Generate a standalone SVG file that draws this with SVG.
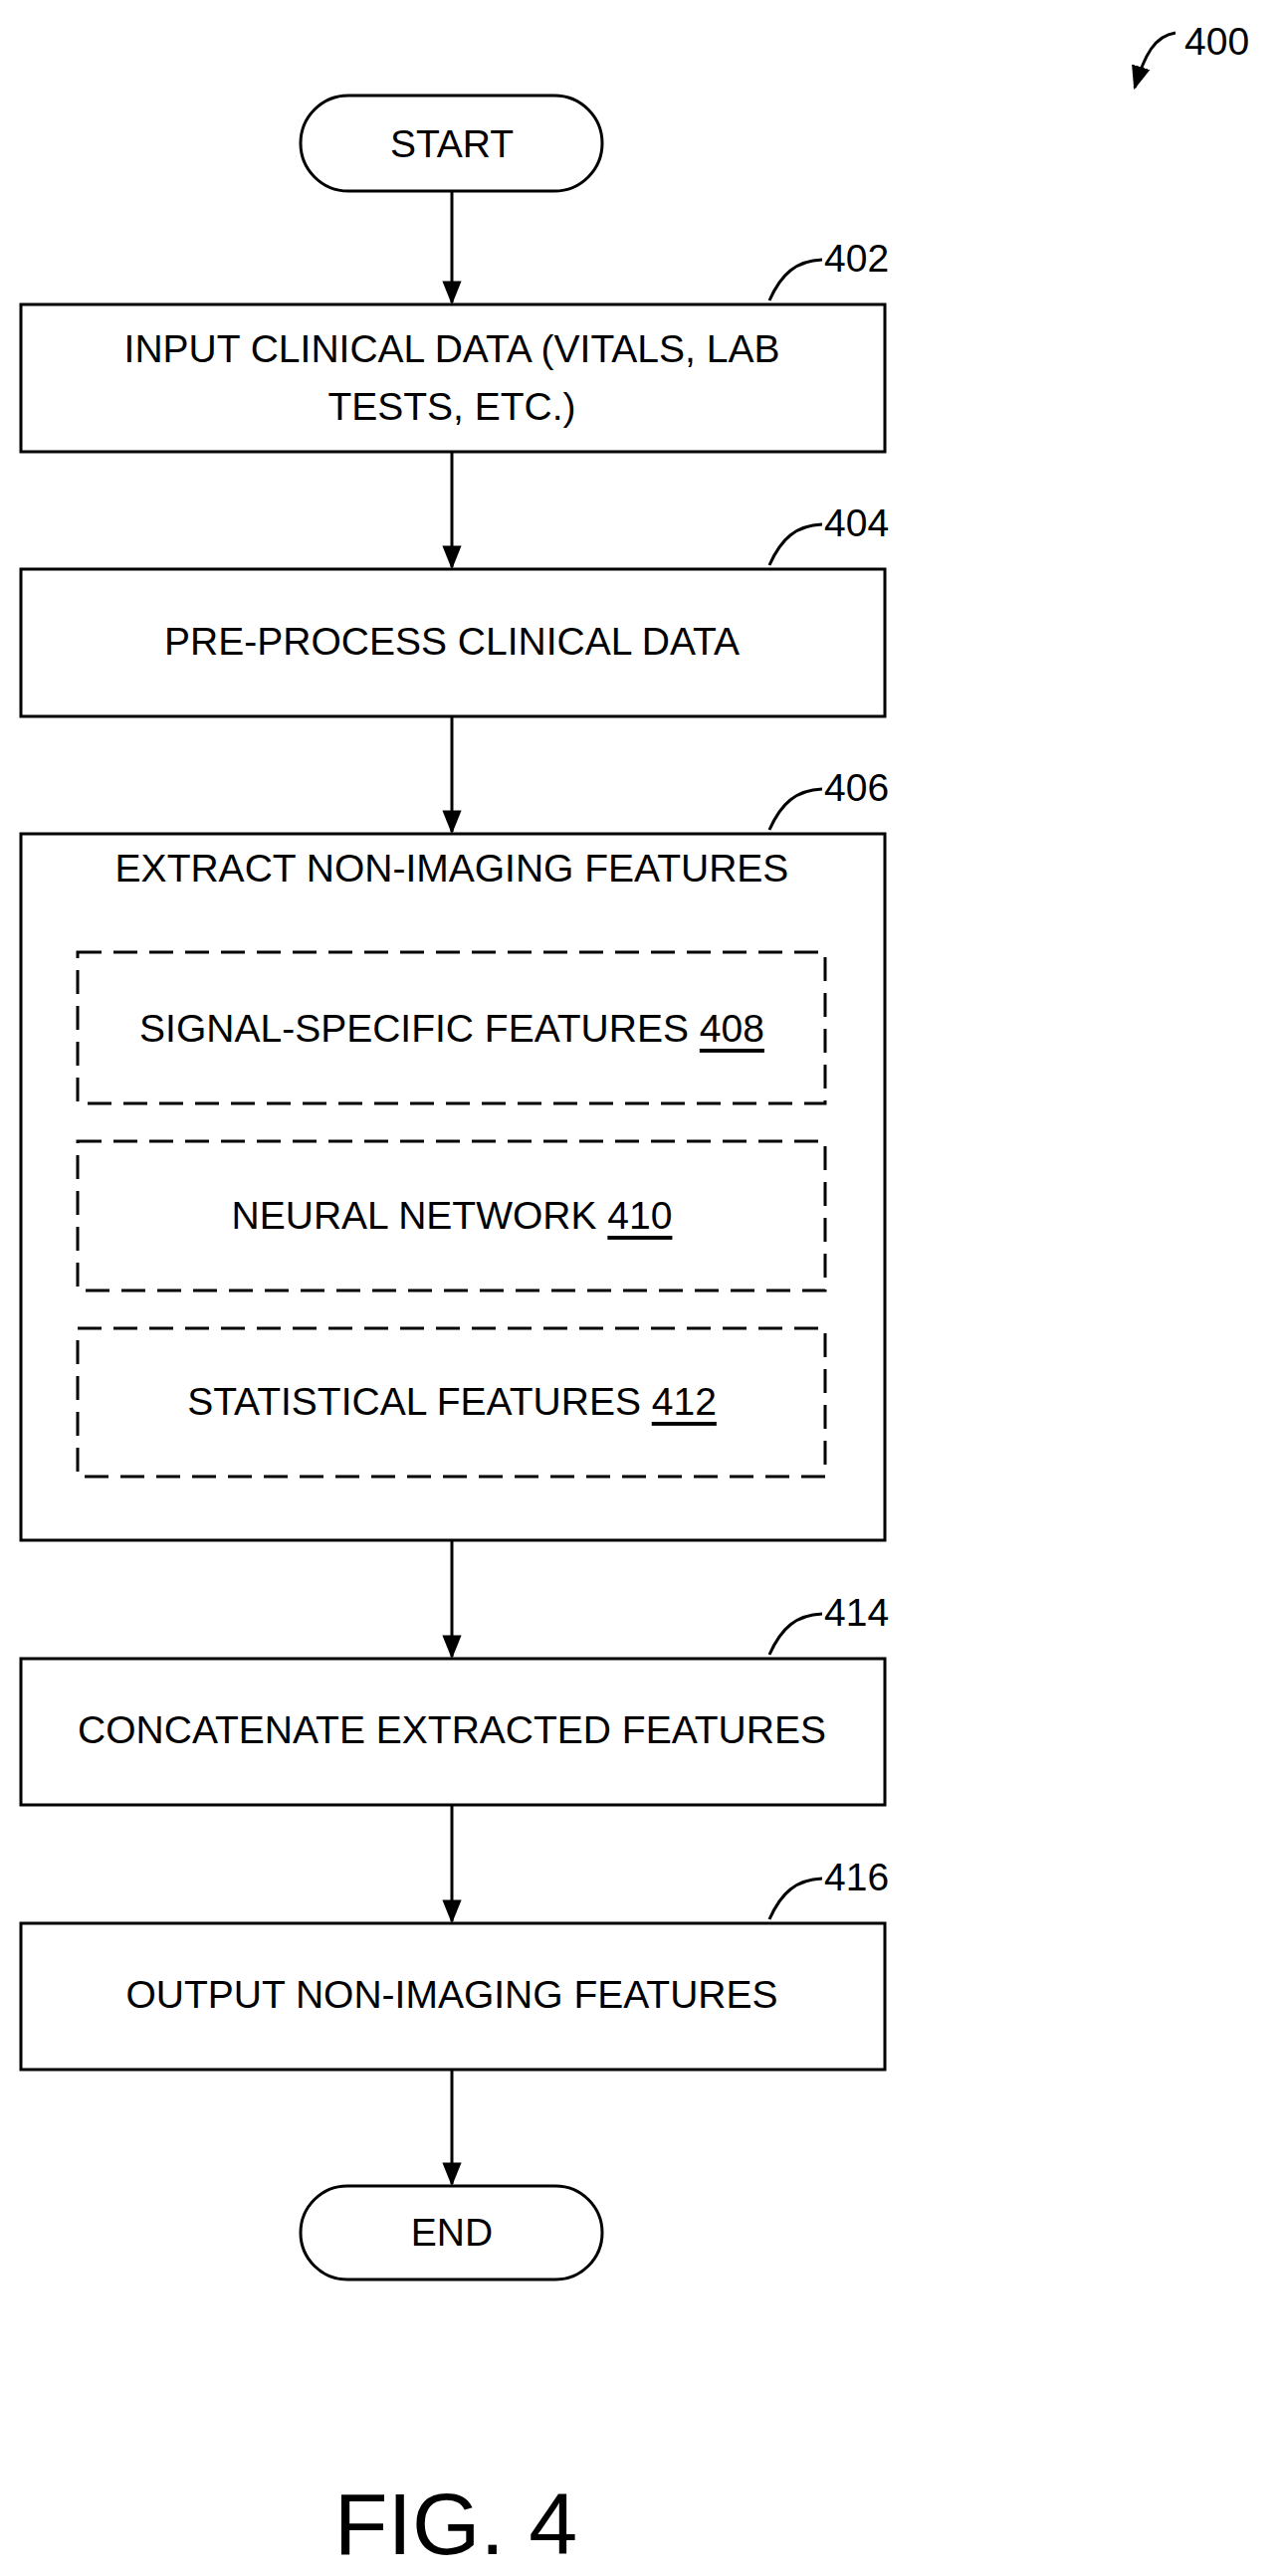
<svg xmlns="http://www.w3.org/2000/svg" width="1289" height="2589" viewBox="0 0 1289 2589">
<style>
.b{fill:#fff;stroke:#000;stroke-width:3}
.d{fill:none;stroke:#000;stroke-width:3;stroke-dasharray:24,12}
.c{fill:none;stroke:#000;stroke-width:3}
text{font-family:"Liberation Sans",Arial,sans-serif;font-size:39px;fill:#000;text-anchor:middle;dominant-baseline:central}
.r{text-anchor:start}
</style>
<defs><marker id="a" markerWidth="10" markerHeight="10" refX="9" refY="5" orient="auto" markerUnits="userSpaceOnUse" viewBox="0 0 10 10"><path d="M0,0L10,5L0,10z"/></marker>
<marker id="A" viewBox="0 0 10 10" refX="9" refY="5" markerWidth="24" markerHeight="24" orient="auto" markerUnits="userSpaceOnUse"><path d="M0,1L10,5L0,9z"/></marker></defs>
<g id="connectors">
<line class="c" x1="454" y1="192" x2="454" y2="304" marker-end="url(#A)"/>
<line class="c" x1="454" y1="454" x2="454" y2="570" marker-end="url(#A)"/>
<line class="c" x1="454" y1="720" x2="454" y2="836" marker-end="url(#A)"/>
<line class="c" x1="454" y1="1548" x2="454" y2="1665" marker-end="url(#A)"/>
<line class="c" x1="454" y1="1814" x2="454" y2="1931" marker-end="url(#A)"/>
<line class="c" x1="454" y1="2080" x2="454" y2="2195" marker-end="url(#A)"/>
<path class="c" d="M1181,33 C1160,36 1150,55 1140,88" marker-end="url(#A)"/>
<path class="c" d="M773,302 C785,275 800,262 826,261"/>
<path class="c" d="M773,568 C785,541 800,528 826,527"/>
<path class="c" d="M773,834 C785,807 800,794 826,793"/>
<path class="c" d="M773,1663 C785,1636 800,1623 826,1622"/>
<path class="c" d="M773,1929 C785,1902 800,1889 826,1888"/>
</g>
<text class="r" x="1190" y="41">400</text>
<g id="start"><rect class="b" x="302" y="96" width="303" height="96" rx="48"/><text x="454" y="144">START</text></g>
<g id="n402"><rect class="b" x="21" y="306" width="868" height="148"/><text x="454" y="350">INPUT CLINICAL DATA (VITALS, LAB</text><text x="454" y="408">TESTS, ETC.)</text><text class="r" x="828" y="259">402</text></g>
<g id="n404"><rect class="b" x="21" y="572" width="868" height="148"/><text x="454" y="644">PRE-PROCESS CLINICAL DATA</text><text class="r" x="828" y="525">404</text></g>
<g id="n406"><rect class="b" x="21" y="838" width="868" height="710"/><text x="454" y="872">EXTRACT NON-IMAGING FEATURES</text><text class="r" x="828" y="791">406</text>
<rect class="d" x="78" y="957" width="751" height="152"/><text x="454" y="1033">SIGNAL-SPECIFIC FEATURES <tspan text-decoration="underline">408</tspan></text>
<rect class="d" x="78" y="1147" width="751" height="150"/><text x="454" y="1221">NEURAL NETWORK <tspan text-decoration="underline">410</tspan></text>
<rect class="d" x="78" y="1335" width="751" height="149"/><text x="454" y="1408">STATISTICAL FEATURES <tspan text-decoration="underline">412</tspan></text></g>
<g id="n414"><rect class="b" x="21" y="1667" width="868" height="147"/><text x="454" y="1738">CONCATENATE EXTRACTED FEATURES</text><text class="r" x="828" y="1620">414</text></g>
<g id="n416"><rect class="b" x="21" y="1933" width="868" height="147"/><text x="454" y="2004">OUTPUT NON-IMAGING FEATURES</text><text class="r" x="828" y="1886">416</text></g>
<g id="end"><rect class="b" x="302" y="2197" width="303" height="94" rx="47"/><text x="454" y="2243">END</text></g>
<text x="458" y="2536" style="font-size:88px">FIG. 4</text>
</svg>
